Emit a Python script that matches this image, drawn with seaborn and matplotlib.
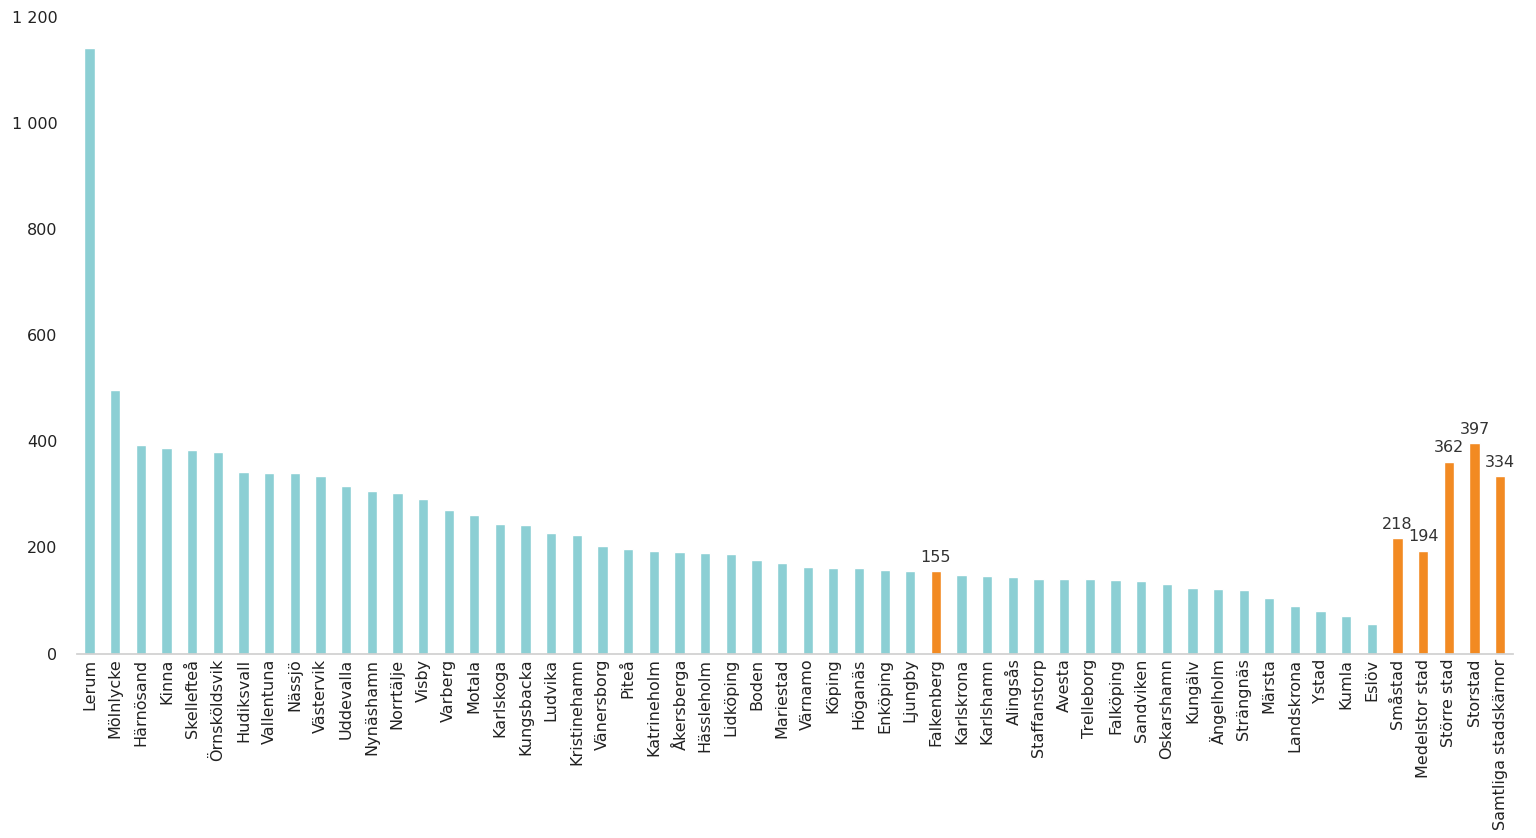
import matplotlib
matplotlib.use("Agg")
import matplotlib.pyplot as plt
import seaborn as sns
import pandas as pd

cities = ["Lerum","Mölnlycke","Härnösand","Kinna","Skellefteå","Örnsköldsvik","Hudiksvall","Vallentuna","Nässjö","Västervik","Uddevalla","Nynäshamn","Norrtälje","Visby","Varberg","Motala","Karlskoga","Kungsbacka","Ludvika","Kristinehamn","Vänersborg","Piteå","Katrineholm","Åkersberga","Hässleholm","Lidköping","Boden","Mariestad","Värnamo","Köping","Höganäs","Enköping","Ljungby","Falkenberg","Karlskrona","Karlshamn","Alingsås","Staffanstorp","Avesta","Trelleborg","Falköping","Sandviken","Oskarshamn","Kungälv","Ängelholm","Strängnäs","Märsta","Landskrona","Ystad","Kumla","Eslöv","Småstad","Medelstor stad","Större stad","Storstad","Samtliga stadskärnor"]
values = [1141,496,394,387,383,379,342,340,340,334,315,306,302,291,270,262,245,243,228,223,202,198,194,192,189,188,177,170,164,162,162,157,155,155,149,147,145,140,140,140,138,136,131,123,121,119,104,89,81,70,56,218,194,362,397,334]
highlight = ["Falkenberg","Småstad","Medelstor stad","Större stad","Storstad","Samtliga stadskärnor"]

teal = "#8CCFD4"; orange = "#F28A22"
df = pd.DataFrame({"city": cities, "value": values})
df["grp"] = ["h" if c in highlight else "n" for c in cities]

sns.set_theme(style="white")
plt.rcParams['font.family'] = ['DejaVu Sans']
fig, ax = plt.subplots(figsize=(15.36, 8.38), dpi=100)
sns.barplot(data=df, x="city", y="value", hue="grp", palette={"n": teal, "h": orange},
            dodge=False, width=0.4, saturation=1, legend=False, ax=ax)
for i, (c, v) in enumerate(zip(cities, values)):
    if c in highlight:
        ax.text(i, v + 12, str(v), ha="center", va="bottom", fontsize=11.5, color="#333333")
ax.set_ylim(0, 1200)
ax.set_xlim(-0.5, len(cities) - 0.5)
ax.set_yticks(range(0, 1201, 200))
ax.set_yticklabels([f"{t:,}".replace(",", " ") for t in range(0, 1201, 200)], fontsize=11.5, color="#222222")
ax.set_xticks(range(len(cities)))
ax.set_xticklabels(cities, rotation=90, fontsize=11.5, color="#222222")
ax.tick_params(axis="both", length=0)
ax.tick_params(axis="y", pad=14)
ax.set_xlabel(""); ax.set_ylabel("")
for s in ["top", "right", "left"]:
    ax.spines[s].set_visible(False)
ax.spines["bottom"].set_color("#d0d0d0")
plt.subplots_adjust(left=0.05, right=0.985, top=0.98, bottom=0.22)
fig.savefig("out.png", dpi=100)
